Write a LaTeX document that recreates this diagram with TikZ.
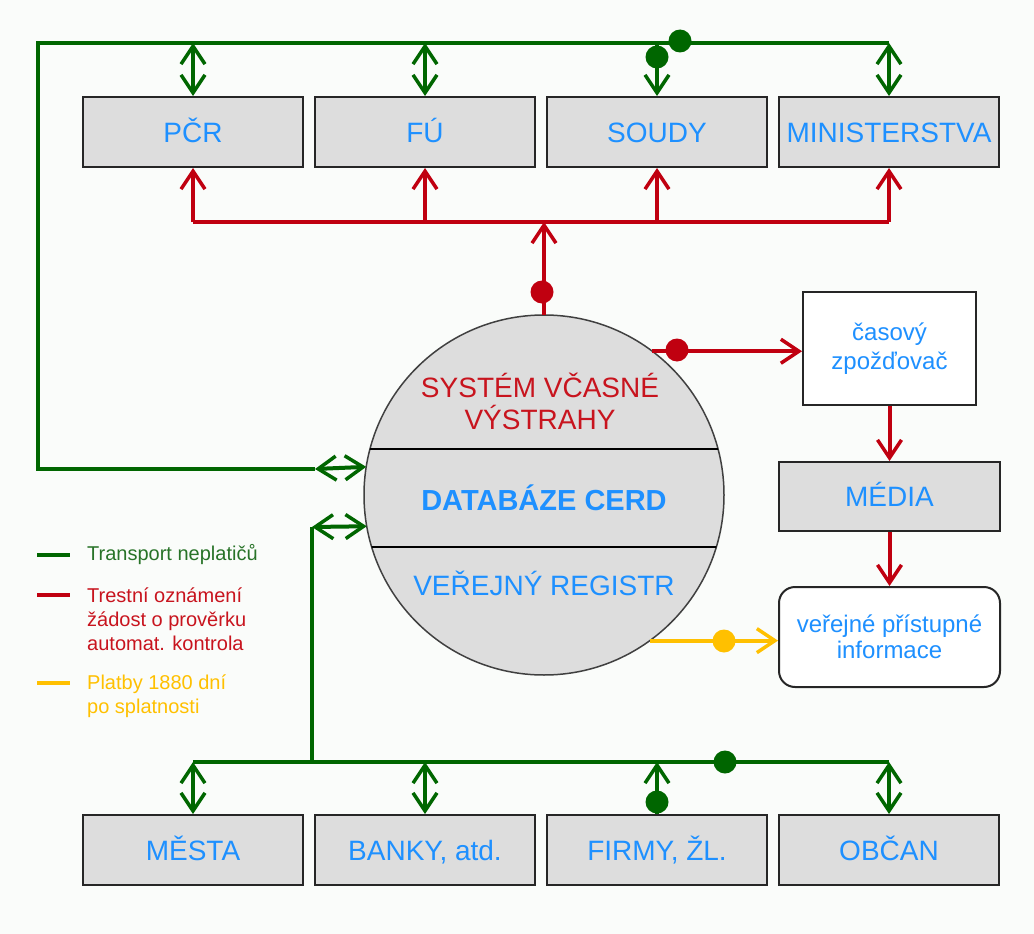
\documentclass[tikz,border=0pt]{standalone}
\usepackage{fontspec}
\setmainfont{Liberation Sans}
\usetikzlibrary{arrows.meta, calc, positioning, backgrounds}
\definecolor{cgreen}{RGB}{0,102,0}
\definecolor{cred}{RGB}{192,0,16}
\definecolor{cyellow}{RGB}{255,192,0}
\definecolor{cblue}{RGB}{30,144,255}
\definecolor{credtxt}{RGB}{200,20,30}
\definecolor{cgreentxt}{RGB}{40,115,40}
\definecolor{cbox}{RGB}{221,221,221}
\definecolor{cpaper}{RGB}{250,252,250}
\tikzset{
    bh/.tip={Straight Barb[length=18pt, width=24pt, line width=3.5pt]},
    gline/.style={draw=cgreen, line width=4pt},
    rline/.style={draw=cred, line width=4pt},
    yline/.style={draw=cyellow, line width=4pt},
    dot/.style={circle, inner sep=0pt, minimum size=23pt},
    graybox/.style={draw=black!85, line width=2pt, fill=cbox, minimum width=220pt,
        minimum height=70pt, text=cblue, text height=20pt, text depth=0pt,
        font=\fontsize{28}{32}\selectfont},
    whitebox/.style={draw=black!85, line width=2pt, fill=white, text=cblue, align=center,
        font=\fontsize{24}{29}\selectfont},
    legtext/.style={anchor=west, align=left, inner sep=0pt, font=\fontsize{20}{24}\selectfont}
}
\begin{document}
\begin{tikzpicture}[x=1pt, y=-1pt]
    \def \R {180}
    \fill[cpaper] (0,0) rectangle (1034,934);
    \useasboundingbox (0,0) rectangle (1034,934);
    % top row
    \node[graybox] (pcr) at (193,132) {PČR};
    \node[graybox] (fu) at (425,132) {FÚ};
    \node[graybox] (soudy) at (657,132) {SOUDY};
    \node[graybox] (min) at (889,132) {MINISTERSTVA};
    % bottom row
    \node[graybox] (mesta) at (193,850) {MĚSTA};
    \node[graybox] (banky) at (425,850) {BANKY, atd.};
    \node[graybox] (firmy) at (657,850) {FIRMY, ŽL.};
    \node[graybox] (obcan) at (889,850) {OBČAN};
    % database
    \node[circle, draw=black!75, line width=1.5pt, fill=cbox, minimum size=2*\R pt,
        inner sep=0pt, outer sep=0pt] (db) at (544,495) {};
    \begin{scope}
        \clip (db.center) circle[radius=\R pt];
        \draw[line width=2pt] (340,449) -- (750,449);
        \draw[line width=2pt] (340,547) -- (750,547);
    \end{scope}
    \node[text=credtxt, align=center, font=\fontsize{28}{32}\selectfont] (dbtop) at (540,401)
        {SYSTÉM VČASNÉ\\VÝSTRAHY};
    \node[text=cblue, font=\fontsize{29}{32}\selectfont\bfseries] (dbmid) at (544,498) {DATABÁZE CERD};
    \node[text=cblue, font=\fontsize{28}{32}\selectfont] (dbbot) at (544,583) {VEŘEJNÝ REGISTR};
    % right column
    \node[whitebox, minimum width=173pt, minimum height=113pt] (delay) at (889.5,348.5)
        {časový\\zpožďovač};
    \node[graybox, minimum width=221pt, minimum height=69pt] (media) at (889.5,496.5) {MÉDIA};
    \node[whitebox, rounded corners=16pt, minimum width=221pt, minimum height=100pt,
        font=\fontsize{24}{26}\selectfont] (info) at (889.5,637) {veřejné přístupné\\informace};
    % green transport lines
    \coordinate (gtl) at (38,43);
    \coordinate (gtr) at (889,43);
    \coordinate (gl1) at (38,469);
    \coordinate (gs1) at (315,469);
    \coordinate (gs2) at (312,527);
    \coordinate (gbl) at (193,762);
    \coordinate (gbr) at (889,762);
    \draw[gline] (gs1) -- (gl1) -- (gtl) -- (gtr);
    \draw[gline, bh-bh] (gs1) -- (db.171.7);
    \draw[gline] (gbl) -- (gbr);
    \draw[gline] (gs2 |- gbl) -- (gs2);
    \draw[gline, bh-bh] (gs2) -- (db.190.25);
    \foreach \b in {pcr, fu, min} {
        \draw[gline, bh-bh] (\b.north |- gtl) -- (\b.north);
    }
    \draw[gline, -bh] (soudy.north |- gtl) -- (soudy.north);
    \node[dot, fill=cgreen] (gd1) at (657,57) {};
    \node[dot, fill=cgreen] (gd2) at (680,41) {};
    \foreach \b in {mesta, banky, obcan} {
        \draw[gline, bh-bh] (\b.north |- gbl) -- (\b.north);
    }
    \draw[gline, bh-] (firmy.north |- gbl) -- (firmy.north);
    \node[dot, fill=cgreen] (gd3) at (657,802) {};
    \node[dot, fill=cgreen] (gd4) at (725,762) {};
    % red lines
    \coordinate (rl) at (193,222);
    \coordinate (rr) at (889,222);
    \draw[rline] (rl) -- (rr);
    \foreach \b in {pcr, fu, soudy, min} {
        \draw[rline, -bh] (\b.south |- rl) -- (\b.south);
    }
    \draw[rline, -bh] (db.north) -- (db.north |- rl);
    \node[dot, fill=cred] (rd1) at (542,292) {};
    \draw[rline, -bh] (db.53.6) -- (db.53.6 -| delay.west);
    \node[dot, fill=cred] (rd2) at (677,350) {};
    \draw[rline, -bh] (delay.south) -- (media.north);
    \draw[rline, -bh] (media.south) -- (info.north);
    % yellow
    \draw[yline, -bh] (db.-54.2) -- (db.-54.2 -| info.west);
    \node[dot, fill=cyellow] (yd1) at (724,641) {};
    % legend
    \draw[gline] (37,555) -- (70,555);
    \node[legtext, text=cgreentxt] (lg1) at (87,555) {Transport neplatičů};
    \draw[rline] (37,595) -- (70,595);
    \node[legtext, text=credtxt] (lg2) at (87,619) {Trestní oznámení\\žádost o prověrku\\automat. kontrola};
    \draw[yline] (37,683) -- (70,683);
    \node[legtext, text=cyellow] (lg3) at (87,696) {Platby 1880 dní\\po splatnosti};
\end{tikzpicture}
\end{document}
